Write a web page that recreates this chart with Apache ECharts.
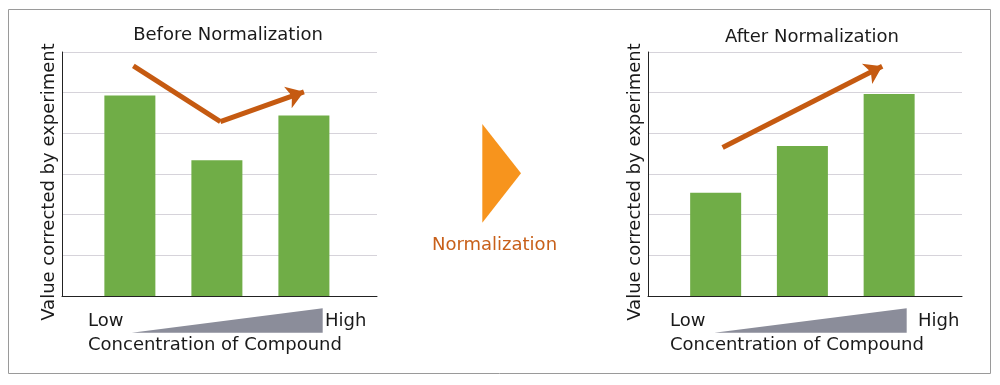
<!DOCTYPE html>
<html><head><meta charset="utf-8">
<script src="https://cdn.jsdelivr.net/npm/echarts@6/dist/echarts.min.js"></script>
<style>html,body{margin:0;padding:0;background:#fff}#c{width:1000px;height:385px}</style>
</head><body><div id="c"></div>
<script>
// ---- data ----
const categories = [1, 2, 3];               // Low -> High concentration
const beforeValues = [4.93, 3.34, 4.44];
const afterValues = [2.54, 3.69, 4.97];
const beforeTrend = [[1.04, 5.66], [2.04, 4.29], [3.0, 5.02]];
const afterTrend = [[1.08, 3.65], [2.92, 5.65]];
const panelTitles = ['Before Normalization', 'After Normalization'];
const yName = 'Value corrected by experiment';
const xName = 'Concentration of Compound';
const lowLabel = 'Low', highLabel = 'High';
const middleLabel = 'Normalization';

const FONT = 'DejaVu Sans';
const GREEN = '#70AD47', RUST = '#C55A11', ORANGE = '#F7941D', TXT = '#1a1a1a';

const chart = echarts.init(document.getElementById('c'), null, {renderer: 'canvas'});

function xAx(i) {
  return {type: 'value', gridIndex: i, min: 0.22, max: 3.84,
    axisLine: {show: true, onZero: false, lineStyle: {color: '#222', width: 1}},
    axisTick: {show: false}, axisLabel: {show: false}, splitLine: {show: false}};
}
function yAx(i) {
  return {type: 'value', gridIndex: i, min: 0, max: 6, interval: 1,
    name: yName, nameLocation: 'middle', nameRotate: 90, nameGap: 4,
    nameTextStyle: {fontFamily: FONT, fontSize: 18, color: TXT, padding: [0, 16, 0, 0]},
    axisLine: {show: true, lineStyle: {color: '#222', width: 1}},
    axisTick: {show: false}, axisLabel: {show: false},
    splitLine: {show: true, lineStyle: {color: '#d6d3da', width: 1}}};
}
function bars(i, vals) {
  return {type: 'bar', xAxisIndex: i, yAxisIndex: i, barWidth: 51,
    itemStyle: {color: GREEN}, data: categories.map((c, k) => [c, vals[k]])};
}
function seg(i, a, b, arrow) {
  return {type: 'lines', coordinateSystem: 'cartesian2d', xAxisIndex: i, yAxisIndex: i,
    symbol: ['none', arrow ? 'arrow' : 'none'], symbolSize: [17, 17],
    lineStyle: {color: RUST, width: 5, opacity: 1, curveness: 0, cap: 'butt'},
    itemStyle: {color: RUST},
    data: [{coords: [a, b]}], z: 5};
}

function wedge(x0, x1) {
  return {type: 'polygon', shape: {points: [[x0, 332.7], [x1, 308.3], [x1, 332.7]]},
    style: {fill: '#8b8d9a'}};
}
function txt(x, y, t, align, color) {
  return {type: 'text', x: x, y: y, style: {text: t, fontFamily: FONT, fontSize: 18,
    fill: color || TXT, textAlign: align || 'left', textVerticalAlign: 'middle'}};
}

chart.setOption({
  animation: false,
  backgroundColor: '#fff',
  title: [
    {text: panelTitles[0], left: 228, top: 26, textAlign: 'center', padding: 0,
     textStyle: {fontFamily: FONT, fontSize: 18, fontWeight: 'normal', color: TXT}},
    {text: panelTitles[1], left: 812, top: 28, textAlign: 'center', padding: 0,
     textStyle: {fontFamily: FONT, fontSize: 18, fontWeight: 'normal', color: TXT}}
  ],
  grid: [
    {left: 62, right: 623, top: 52, bottom: 89},
    {left: 648, right: 38, top: 52, bottom: 89}
  ],
  xAxis: [xAx(0), xAx(1)],
  yAxis: [yAx(0), yAx(1)],
  series: [
    bars(0, beforeValues),
    bars(1, afterValues),
    seg(0, beforeTrend[0], beforeTrend[1], false),
    seg(0, beforeTrend[1], beforeTrend[2], true),
    seg(1, afterTrend[0], afterTrend[1], true)
  ],
  graphic: [
    {type: 'rect', shape: {x: 8.5, y: 9.5, width: 982, height: 364},
     style: {fill: 'none', stroke: '#9a9a9a', lineWidth: 1}, z: -1},
    wedge(131.7, 322.7), wedge(714.3, 906.7),
    txt(88, 321, lowLabel), txt(325, 321, highLabel),
    txt(88, 345.5, xName),
    txt(670, 321, lowLabel), txt(918, 321, highLabel),
    txt(670, 345.5, xName),
    {type: 'polygon', shape: {points: [[482.3, 124], [521, 173.3], [482.3, 222.7]]},
     style: {fill: ORANGE}},
    txt(494.5, 245.5, middleLabel, 'center', '#C8601A')
  ]
});
</script></body></html>
